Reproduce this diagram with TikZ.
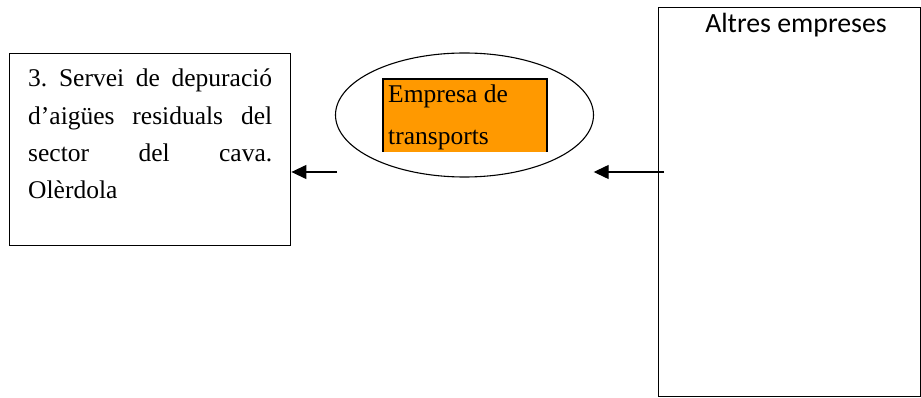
\documentclass[tikz,border=0pt]{standalone}
\usepackage{fontspec}
\setmainfont{Liberation Serif}
\newfontfamily\calib{Carlito}
\usetikzlibrary{arrows.meta}
\definecolor{orng}{HTML}{FF9900}
\tikzset{
  frame/.style={draw=black, line width=1.4pt},
  arr/.style={draw=black, line width=1.3pt, -{Triangle[length=15pt,width=14pt]}},
  txt/.style={inner sep=0pt, anchor=base west, font=\fontsize{25.5pt}{30pt}\selectfont}
}
\begin{document}
\begin{tikzpicture}[x=1pt, y=-1pt]
\useasboundingbox (0,0) rectangle (921,398);
% left box
\node[frame, minimum width=281pt, minimum height=192pt, inner sep=0pt, anchor=north west] (svc) at (9,53) {};
\node[txt] (l1) at (28,87) {\hbox to 244pt{3.\hfill Servei\hfill de\hfill depuració}};
\node[txt] (l2) at (28,125) {\hbox to 244pt{d’aigües\hfill residuals\hfill del}};
\node[txt] (l3) at (28,162) {\hbox to 244pt{sector\hfill del\hfill cava.}};
\node[txt] (l4) at (28,199) {Olèrdola};
% ellipse
\draw[line width=1.1pt] (464.5,115) ellipse [x radius=129pt, y radius=62pt];
\node[inner sep=0pt, minimum width=258pt, minimum height=124pt] (ell) at (464.5,115) {};
% orange box
\fill[orng] (383,79) rectangle (547,152);
\draw[line width=1.4pt] (383,152) -- (383,79) -- (547,79) -- (547,152);
\begin{scope}
\clip (383,79) rectangle (547,152);
\node[txt] (e1) at (388,103) {Empresa de};
\node[txt] (e2) at (388,145) {transports};
\end{scope}
% right box
\node[frame, minimum width=262pt, minimum height=389pt, inner sep=0pt, anchor=north west] (oth) at (658,7) {};
\node[inner sep=0pt, anchor=base, font=\calib\fontsize{27.8pt}{32pt}\selectfont] (oth-t) at (796,33) {Altres empreses};
% arrows
\coordinate (a1) at (337,172);
\coordinate (a2) at (664,172);
\draw[arr] (a1) -- (a1 -| svc.east);
\draw[arr] (a2) -- (a2 -| ell.east);
\end{tikzpicture}
\end{document}
